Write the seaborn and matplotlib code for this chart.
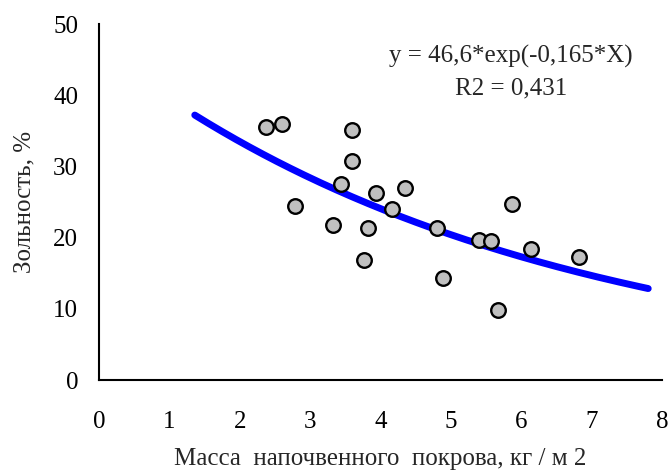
import numpy as np
import pandas as pd
import seaborn as sns
import matplotlib
matplotlib.use("Agg")
import matplotlib.pyplot as plt

# data
mass = [2.37, 2.60, 3.59, 3.59, 3.44, 3.93, 4.35, 2.79, 4.16, 3.32,
        3.82, 4.80, 3.77, 4.88, 5.87, 5.40, 5.56, 6.13, 6.81, 5.67]
ash = [35.6, 36.0, 35.2, 30.8, 27.5, 26.3, 27.0, 24.4, 24.1, 21.8,
       21.4, 21.4, 16.9, 14.3, 24.8, 19.7, 19.6, 18.4, 17.3, 9.8]
fit_a = 46.6
fit_b = -0.165
fit_range = [1.36, 7.8]
x_ticks = [0, 1, 2, 3, 4, 5, 6, 7, 8]
y_ticks = [0, 10, 20, 30, 40, 50]

sns.set_theme(style="white")
plt.rcParams['font.family'] = ['Liberation Serif', 'DejaVu Serif']

df = pd.DataFrame({"mass": mass, "ash": ash})
xf = np.linspace(fit_range[0], fit_range[1], 200)
fit_df = pd.DataFrame({"x": xf, "y": fit_a * np.exp(fit_b * xf)})

fig = plt.figure(figsize=(6.69, 4.74), dpi=100)
ax = fig.add_axes([0.148, 0.198, 0.842, 0.751])

sns.lineplot(data=fit_df, x="x", y="y", ax=ax, color="#0000FF", lw=5,
             solid_capstyle="round", zorder=2)
sns.scatterplot(data=df, x="mass", y="ash", ax=ax, s=110, color="#C0C0C0",
                edgecolor="black", linewidth=1.7, zorder=3)

ax.set_xlim(0, 8)
ax.set_ylim(0, 50)
ax.set_xticks(x_ticks)
ax.set_yticks(y_ticks)
ax.set_xlabel("Масса  напочвенного  покрова, кг / м 2", fontsize=18)
ax.set_ylabel("Зольность, %", fontsize=18)
ax.xaxis.set_label_coords(0.5, -0.19)
ax.yaxis.set_label_coords(-0.113, 0.5)
ax.tick_params(axis="both", direction="out", length=6, width=1.5,
               labelsize=18, colors="black")
ax.tick_params(axis="x", pad=16)
ax.tick_params(axis="y", pad=9)
for s in ["top", "right"]:
    ax.spines[s].set_visible(False)
for s in ["left", "bottom"]:
    ax.spines[s].set_color("black")
    ax.spines[s].set_linewidth(1.5)

ax.text(5.85, 45.4, "y = 46,6*exp(-0,165*X)", fontsize=18, ha="center", va="center")
ax.text(5.85, 41.0, "R2 = 0,431", fontsize=18, ha="center", va="center")

fig.savefig("out.png", dpi=100)
